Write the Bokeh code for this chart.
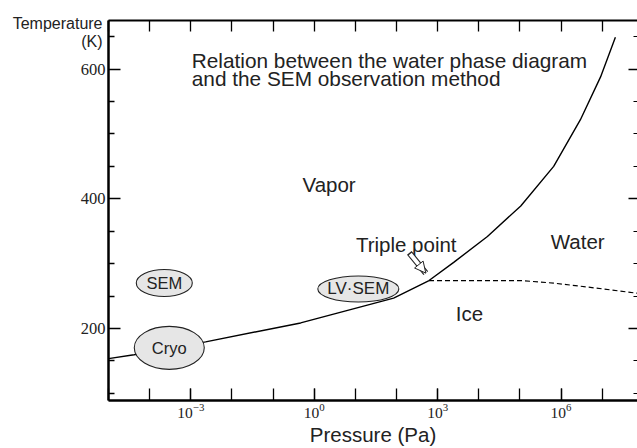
from bokeh.plotting import figure
from bokeh.models import (LogAxis, LinearAxis, FixedTicker, Label, Arrow, NormalHead,
                          ColumnDataSource, LogTickFormatter, CustomJSTickFormatter)
from bokeh.core.properties import value
from bokeh.embed import file_html
from bokeh.resources import INLINE

# ---- data ----
vapor_p = [1.0e-5, 4.17e-5, 2.29e-3, 0.468, 85.1, 617, 2455, 16218, 1.047e5, 6.61e5, 2.95e6, 9.12e6, 2.09e7]
vapor_t = [153.5, 159.6, 179.5, 208.6, 246.8, 274, 302, 342, 389, 450, 522, 588, 649]

melt_p = [617, 1.6e4, 1.05e5, 6.6e5, 4.37e6, 7.2e7]
melt_t = [274, 274, 274, 270, 264, 254.4]

methods = ["SEM", "Cryo", "LV\u00b7SEM"]
method_p = [2.27e-4, 3.0e-4, 11.8]
method_t = [270.2, 170.2, 261.0]
method_w = [56, 70, 81]
method_h = [27, 43, 26]
method_fs = ["16.5px", "16.5px", "17px"]

x_labeled = [1e-3, 1e0, 1e3, 1e6]
x_decades = [1e-5, 1e-4, 1e-3, 1e-2, 1e-1, 1e0, 1e1, 1e2, 1e3, 1e4, 1e5, 1e6, 1e7]
y_major = [200, 400, 600]
y_minor = [100, 150, 250, 300, 350, 450, 500, 550, 650]

TXT = "#222222"
SANS = "Liberation Sans"
SERIF = "Liberation Serif"

p = figure(width=637, height=448, x_axis_type="log",
           x_range=(1e-5, 7.2e7), y_range=(89, 675),
           output_backend="svg", toolbar_location=None,
           min_border_left=108, min_border_right=0,
           min_border_top=20, min_border_bottom=45)
p.grid.visible = False
p.outline_line_color = None
p.background_fill_color = "white"
p.border_fill_color = "white"

# bottom axis
xa = p.xaxis[0]
xa.ticker = FixedTicker(ticks=x_labeled, minor_ticks=x_decades)
xa.formatter = LogTickFormatter()
xa.major_tick_in = 12
xa.major_tick_out = 0
xa.minor_tick_in = 12
xa.minor_tick_out = 0
xa.major_tick_line_width = 1.3
xa.minor_tick_line_width = 1.3
xa.axis_line_width = 2.5
xa.major_label_text_font = SERIF
xa.major_label_text_font_size = "15.5px"
xa.major_label_text_color = TXT
xa.major_label_standoff = 3
xa.axis_label = "Pressure (Pa)"
xa.axis_label_text_font = SANS
xa.axis_label_text_font_size = "20.5px"
xa.axis_label_text_font_style = "normal"
xa.axis_label_text_color = TXT
xa.axis_label_standoff = 2

# left axis
ya = p.yaxis[0]
ya.ticker = FixedTicker(ticks=y_major, minor_ticks=y_minor)
ya.major_tick_in = 12
ya.major_tick_out = 0
ya.minor_tick_in = 6
ya.minor_tick_out = 0
ya.major_tick_line_width = 1.3
ya.minor_tick_line_width = 1.3
ya.axis_line_width = 2.5
ya.major_label_text_font = SERIF
ya.major_label_text_font_size = "16.5px"
ya.major_label_text_color = TXT
ya.major_label_standoff = 3

# top axis (ticks only, via minor ticks which carry no labels)
top = LogAxis(ticker=FixedTicker(ticks=[], minor_ticks=x_decades),
              major_tick_in=0, major_tick_out=0, minor_tick_in=11, minor_tick_out=0,
              minor_tick_line_width=1.3, axis_line_width=2,
              major_label_standoff=0)
p.add_layout(top, "above")

# right axis (ticks only)
blank = CustomJSTickFormatter(code="return ''")
right = LinearAxis(ticker=FixedTicker(ticks=y_major, minor_ticks=y_minor),
                   formatter=blank,
                   major_tick_in=9, major_tick_out=0, minor_tick_in=4, minor_tick_out=0,
                   major_tick_line_width=1.3, minor_tick_line_width=1.1,
                   axis_line_color=None, major_label_standoff=0)
p.add_layout(right, "right")

# curves
p.line(vapor_p, vapor_t, line_color="black", line_width=1.4)
p.line(melt_p, melt_t, line_color="black", line_width=1.2, line_dash="5 3")

# method ellipses
src = ColumnDataSource(dict(x=method_p, y=method_t, w=method_w, h=method_h,
                            name=methods, fs=method_fs))
p.ellipse(x="x", y="y", width="w", height="h", source=src,
          width_units="screen", height_units="screen",
          fill_color="#e6e6e6", line_color="#222222", line_width=1.1)
p.text(x="x", y="y", text="name", source=src, text_align="center",
       text_baseline="middle", text_font_size="fs", text_color=TXT,
       text_font=value(SANS))

# texts
def lab(x, y, t, size="20.5px"):
    p.add_layout(Label(x=x, y=y, text=t, text_font=SANS, text_font_size=size,
                       text_color=TXT, text_align="left", text_baseline="alphabetic"))

lab(1.057e-3, 612.8, "Relation between the water phase diagram", size="20.8px")
lab(1.057e-3, 586.0, "and the SEM observation method", size="20.8px")
lab(0.519, 421.4, "Vapor")
lab(10.3, 329.8, "Triple point")
lab(5.62e5, 334.4, "Water")
lab(2.77e3, 222.9, "Ice")

# axis title at the top-left corner (outside the frame, drawn unclipped)
p.text(x=[1e-5, 1e-5], y=[675, 675], text=["Temperature", "(K)"],
       x_offset=-6, y_offset=[3, 21],
       text_align="right", text_baseline="alphabetic", text_font=value(SANS),
       text_font_size="16px", text_color=TXT, level="overlay")

# hollow arrow pointing at the triple point
tail_p, tail_t = 204.6, 316.8
tip_p, tip_t = 515.0, 285.5
p.add_layout(Arrow(x_start=tail_p, y_start=tail_t, x_end=tip_p, y_end=tip_t,
                   line_color="#222222", line_width=6, end=None))
p.add_layout(Arrow(x_start=215.0, y_start=315.0, x_end=tip_p, y_end=tip_t,
                   line_color="white", line_width=3.8, end=None))
p.add_layout(Arrow(x_start=tail_p, y_start=tail_t, x_end=tip_p, y_end=tip_t,
                   line_alpha=0,
                   end=NormalHead(size=11, fill_color="white",
                                  line_color="#222222", line_width=1)))

open("out.html", "w").write(file_html(p, INLINE))
